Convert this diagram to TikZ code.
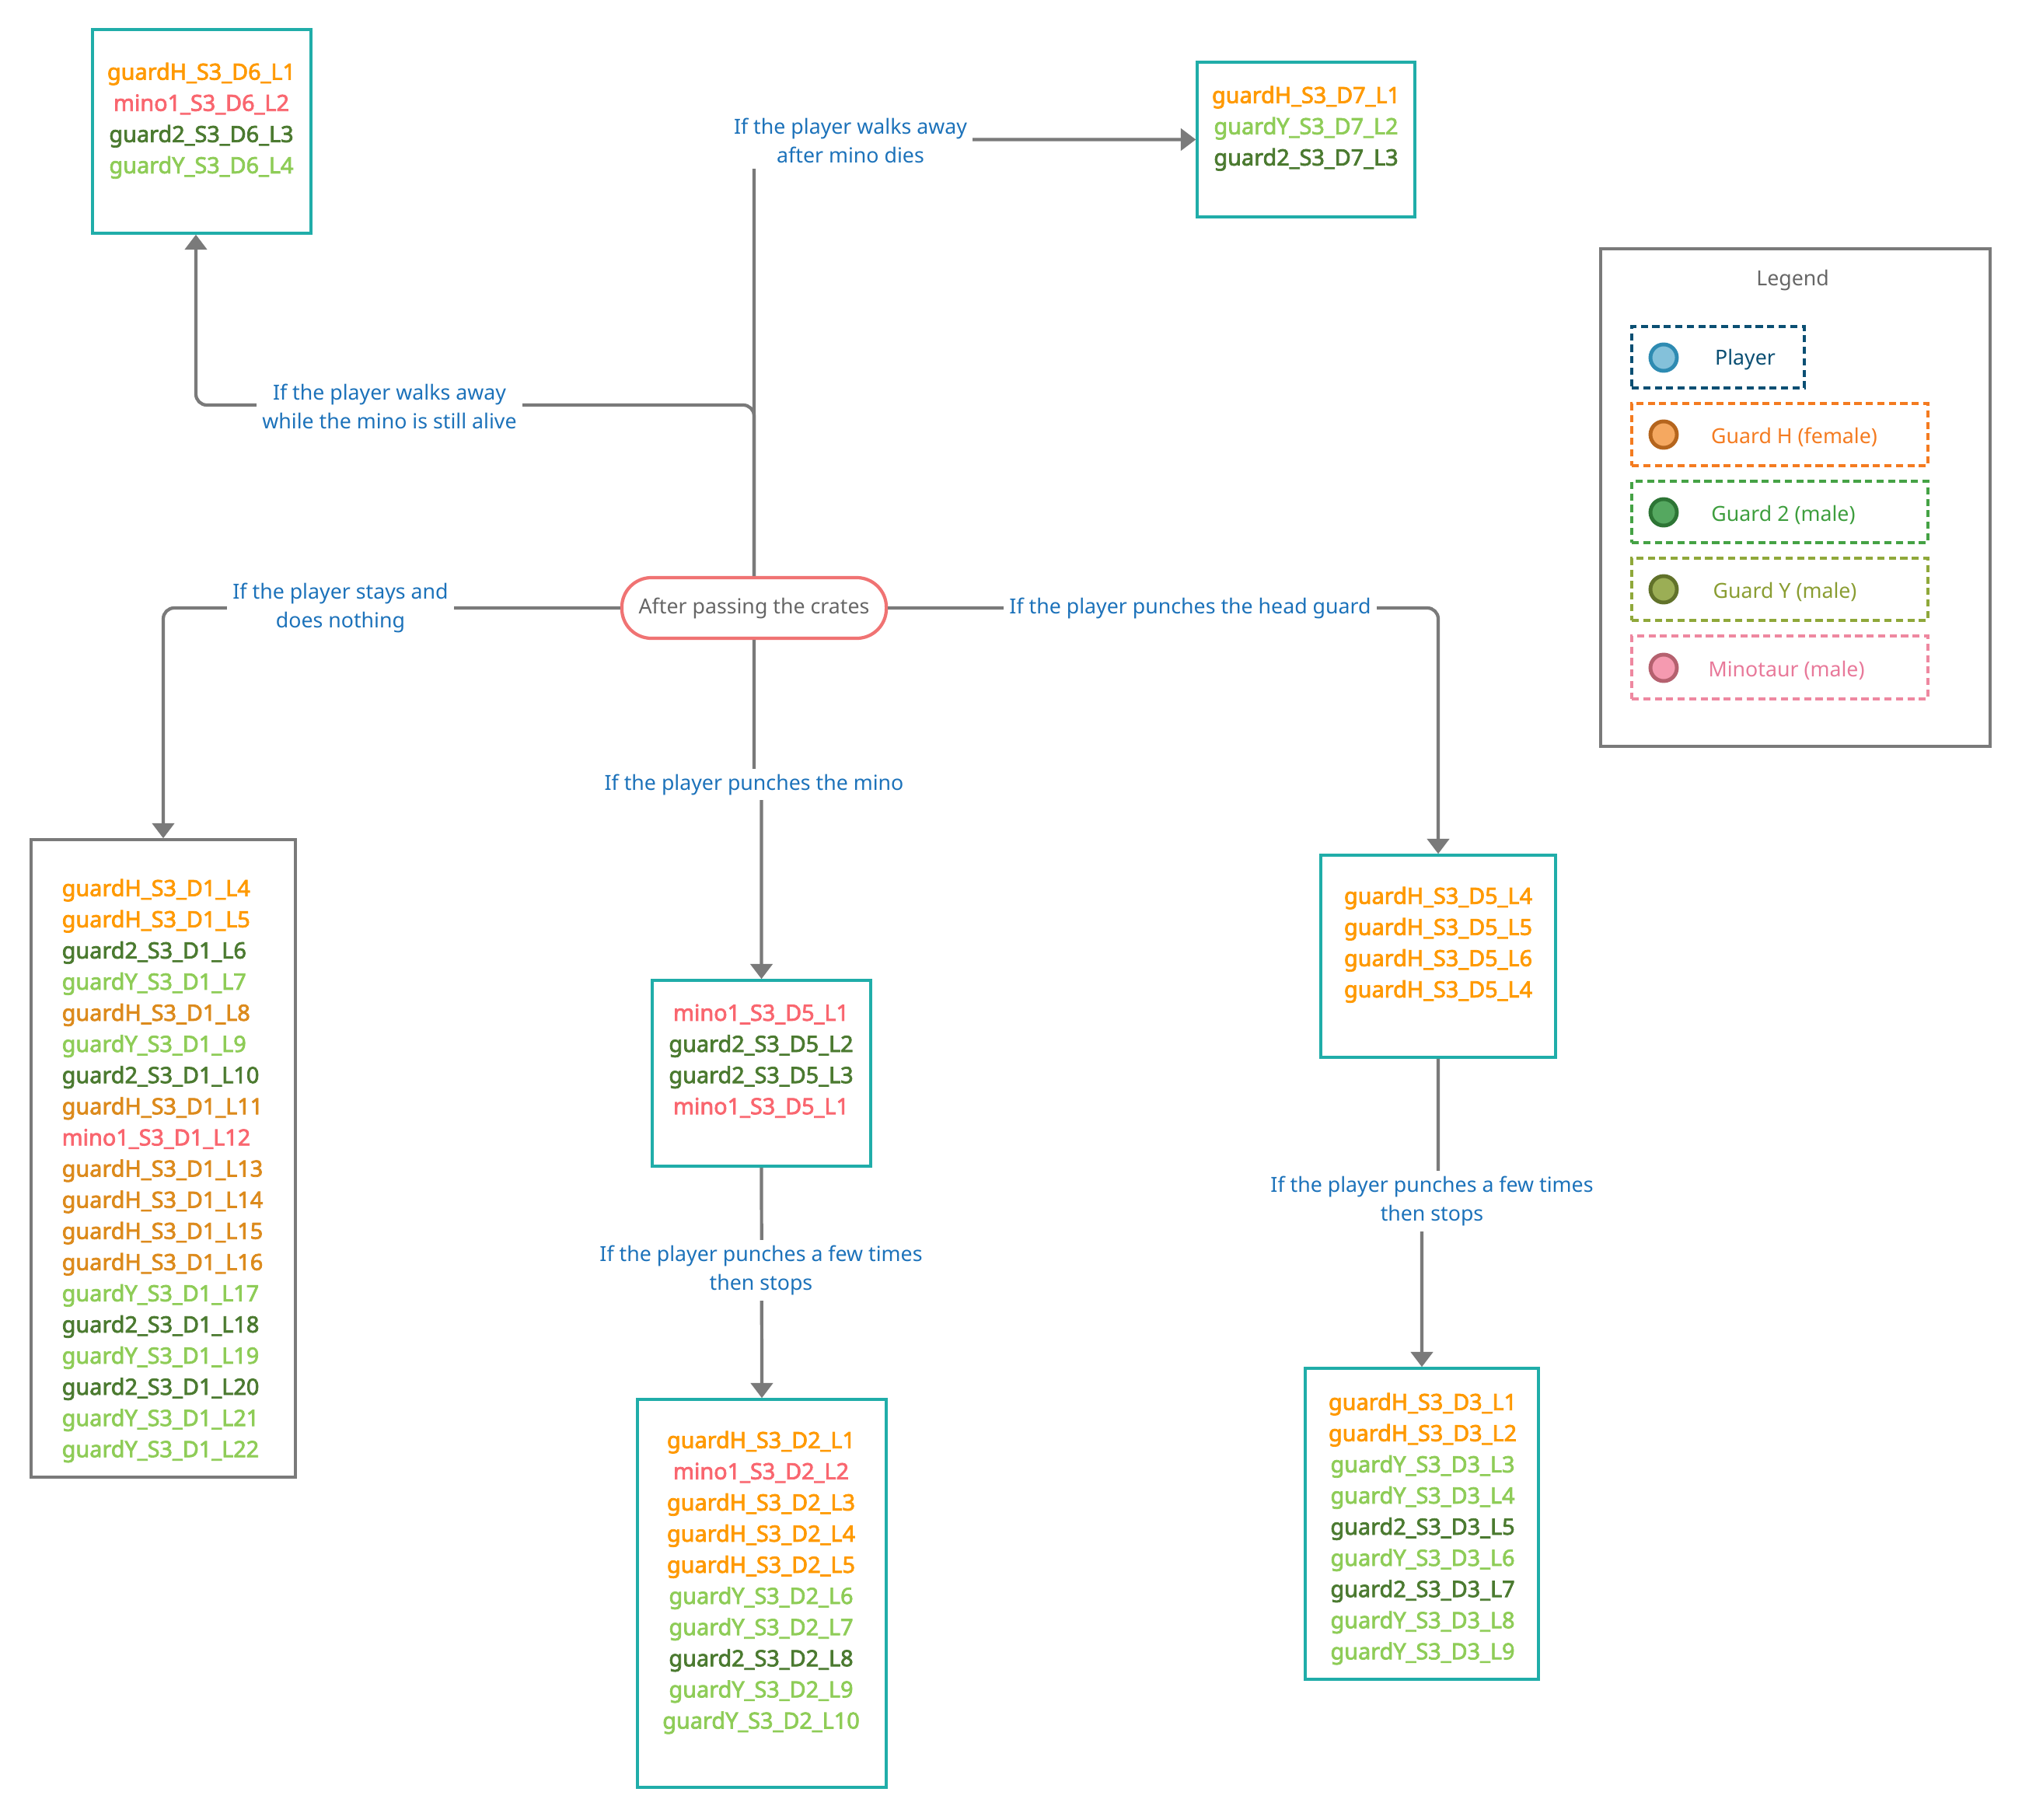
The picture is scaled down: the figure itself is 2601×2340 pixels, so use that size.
\documentclass[tikz,border=0pt]{standalone}
\usepackage{fontspec}
\setmainfont{Noto Sans}
\newfontfamily\listfont{Noto Sans}[FakeBold=2.6]
\usetikzlibrary{arrows.meta,fit}

\definecolor{guardHc}{HTML}{FF9900}
\definecolor{guardHd}{HTML}{DC8A1C}
\definecolor{minoc}{HTML}{F9666F}
\definecolor{guardTc}{HTML}{4B7A30}
\definecolor{guardYc}{HTML}{8ECC57}
\definecolor{tealc}{HTML}{20ADA9}
\definecolor{linec}{HTML}{7A7A7A}
\definecolor{labelc}{HTML}{1C72BA}
\definecolor{startc}{HTML}{F07373}
% legend colours
\definecolor{kPline}{HTML}{0B4F73}
\definecolor{kPring}{HTML}{2E8BB2}
\definecolor{kPfill}{HTML}{84C1DA}
\definecolor{kHline}{HTML}{F47B20}
\definecolor{kHring}{HTML}{B5651D}
\definecolor{kHfill}{HTML}{F5A860}
\definecolor{kTline}{HTML}{45A245}
\definecolor{kTtext}{HTML}{3E9E3E}
\definecolor{kTring}{HTML}{2D7535}
\definecolor{kTfill}{HTML}{55A860}
\definecolor{kYline}{HTML}{8FA83A}
\definecolor{kYtext}{HTML}{8A9D32}
\definecolor{kYring}{HTML}{61722A}
\definecolor{kYfill}{HTML}{9BAE55}
\definecolor{kMline}{HTML}{EE88A0}
\definecolor{kMtext}{HTML}{E8799A}
\definecolor{kMring}{HTML}{B5616F}
\definecolor{kMfill}{HTML}{F59AB0}

\newcommand{\lH}[1]{\textcolor{guardHc}{#1}}
\newcommand{\lHd}[1]{\textcolor{guardHd}{#1}}
\newcommand{\lM}[1]{\textcolor{minoc}{#1}}
\newcommand{\lT}[1]{\textcolor{guardTc}{#1}}
\newcommand{\lY}[1]{\textcolor{guardYc}{#1}}

\tikzset{
  tealbox/.style={draw=tealc, line width=1pt, inner sep=0pt},
  graybox/.style={draw=linec, line width=1pt, inner sep=0pt},
  lines/.style={font=\listfont\fontsize{8.2}{11.4}\selectfont, align=center, inner sep=0pt},
  link/.style={draw=linec, line width=1.2pt, rounded corners=0.14cm},
  arr/.style={-{Triangle[width=8pt,length=5.5pt]}},
  cond/.style={fill=white, text=labelc, font=\fontsize{7.6}{10.4}\selectfont, align=center, inner sep=2pt},
  legbox/.style={draw=#1, line width=0.9pt, dash pattern=on 2.6pt off 1.6pt, inner sep=0pt},
  dot/.style 2 args={circle, draw=#1, fill=#2, line width=1.4pt, minimum size=0.34cm, inner sep=0pt},
  legtext/.style={text=#1, font=\fontsize{7.6}{9}\selectfont, inner sep=0pt}
}

\begin{document}
\begin{tikzpicture}[x=0.01cm, y=-0.01cm]
\useasboundingbox (0,0) rectangle (2601,2340);

% start
\node (start) [draw=startc, line width=1.2pt, rounded corners=0.38cm, minimum width=3.4cm,
  minimum height=0.78cm, text=black!60, font=\fontsize{7.6}{9}\selectfont] at (970,782) {After passing the crates};

% boxes
\node (d6) [tealbox, fit={(119,38) (400,300)}] {};
\node (d7) [tealbox, fit={(1540,80) (1820,279)}] {};
\node (d1) [graybox, fit={(40,1080) (380,1900)}] {};
\node (d5) [tealbox, fit={(839,1261) (1120,1500)}] {};
\node (d2) [tealbox, fit={(820,1800) (1140,2299)}] {};
\node (d5r) [tealbox, fit={(1699,1100) (2001,1360)}] {};
\node (d3) [tealbox, fit={(1679,1760) (1979,2160)}] {};

\node (d6txt) [lines, anchor=north] at (259,80) {\lH{guardH\_S3\_D6\_L1}\\\lM{mino1\_S3\_D6\_L2}\\
  \lT{guard2\_S3\_D6\_L3}\\\lY{guardY\_S3\_D6\_L4}};
\node (d7txt) [lines, anchor=north] at (1680,110) {\lH{guardH\_S3\_D7\_L1}\\\lY{guardY\_S3\_D7\_L2}\\
  \lT{guard2\_S3\_D7\_L3}};
\node (d1txt) [lines, align=left, anchor=north west] at (79,1130) {\lH{guardH\_S3\_D1\_L4}\\
  \lH{guardH\_S3\_D1\_L5}\\\lT{guard2\_S3\_D1\_L6}\\\lY{guardY\_S3\_D1\_L7}\\\lHd{guardH\_S3\_D1\_L8}\\
  \lY{guardY\_S3\_D1\_L9}\\\lT{guard2\_S3\_D1\_L10}\\\lHd{guardH\_S3\_D1\_L11}\\\lM{mino1\_S3\_D1\_L12}\\
  \lHd{guardH\_S3\_D1\_L13}\\\lHd{guardH\_S3\_D1\_L14}\\\lHd{guardH\_S3\_D1\_L15}\\\lHd{guardH\_S3\_D1\_L16}\\
  \lY{guardY\_S3\_D1\_L17}\\\lT{guard2\_S3\_D1\_L18}\\\lY{guardY\_S3\_D1\_L19}\\\lT{guard2\_S3\_D1\_L20}\\
  \lY{guardY\_S3\_D1\_L21}\\\lY{guardY\_S3\_D1\_L22}};
\node (d5txt) [lines, anchor=north] at (979,1291) {\lM{mino1\_S3\_D5\_L1}\\\lT{guard2\_S3\_D5\_L2}\\
  \lT{guard2\_S3\_D5\_L3}\\\lM{mino1\_S3\_D5\_L1}};
\node (d2txt) [lines, anchor=north] at (979,1840) {\lH{guardH\_S3\_D2\_L1}\\\lM{mino1\_S3\_D2\_L2}\\
  \lH{guardH\_S3\_D2\_L3}\\\lH{guardH\_S3\_D2\_L4}\\\lH{guardH\_S3\_D2\_L5}\\\lY{guardY\_S3\_D2\_L6}\\
  \lY{guardY\_S3\_D2\_L7}\\\lT{guard2\_S3\_D2\_L8}\\\lY{guardY\_S3\_D2\_L9}\\\lY{guardY\_S3\_D2\_L10}};
\node (d5rtxt) [lines, anchor=north] at (1850,1140) {\lH{guardH\_S3\_D5\_L4}\\\lH{guardH\_S3\_D5\_L5}\\
  \lH{guardH\_S3\_D5\_L6}\\\lH{guardH\_S3\_D5\_L4}};
\node (d3txt) [lines, anchor=north] at (1830,1791) {\lH{guardH\_S3\_D3\_L1}\\\lH{guardH\_S3\_D3\_L2}\\
  \lY{guardY\_S3\_D3\_L3}\\\lY{guardY\_S3\_D3\_L4}\\\lT{guard2\_S3\_D3\_L5}\\\lY{guardY\_S3\_D3\_L6}\\
  \lT{guard2\_S3\_D3\_L7}\\\lY{guardY\_S3\_D3\_L8}\\\lY{guardY\_S3\_D3\_L9}};

% connectors
\coordinate (c6) at (252,521);
\coordinate (m5) at (970,1007);
\coordinate (m3) at (1850,1543);
\draw [link, arr] (start.north) |- (d7.west);
\draw [link, arr] (start.north) |- (c6) -- (c6 |- d6.south);
\draw [link, arr] (start.west) -| (d1.north);
\draw [link, arr] (start.south) -- (m5) -| (d5.north);
\draw [link, arr] (start.east) -| (d5r.north);
\draw [link, arr] (d5.south) -- (d2.north);
\draw [link, arr] (d5r.south) -- (m3) -| (d3.north);

% conditions
\node (q7) [cond] at (1094,181) {If the player walks away\\after mino dies};
\node (q6) [cond] at (501,523) {If the player walks away\\while the mino is still alive};
\node (q1) [cond] at (438,782) {If the player stays and\\does nothing};
\node (q5) [cond] at (970,1009) {If the player punches the mino};
\node (q5r) [cond] at (1531,782) {If the player punches the head guard};
\node (q2) [cond] at (979,1634) {If the player punches a few times\\then stops};
\node (q3) [cond] at (1842,1545) {If the player punches a few times\\then stops};

% legend
\node (legend) [graybox, line width=1.3pt, fit={(2059,320) (2560,960)}] {};
\node (legtitle) [legtext=black!60] at (2306,361) {Legend};
\node (kplayer) [legbox=kPline, fit={(2099,420) (2321,499)}] {};
\node (kguardH) [legbox=kHline, fit={(2099,519) (2480,599)}] {};
\node (kguard2) [legbox=kTline, fit={(2099,619) (2480,698)}] {};
\node (kguardY) [legbox=kYline, fit={(2099,718) (2480,798)}] {};
\node (kmino) [legbox=kMline, fit={(2099,818) (2480,899)}] {};
\node (oplayer) [dot={kPring}{kPfill}] at (2140,460) {};
\node (oguardH) [dot={kHring}{kHfill}] at (2140,559) {};
\node (oguard2) [dot={kTring}{kTfill}] at (2140,659) {};
\node (oguardY) [dot={kYring}{kYfill}] at (2140,758) {};
\node (omino) [dot={kMring}{kMfill}] at (2140,859) {};
\node (tplayer) [legtext=kPline] at (2245,463) {Player};
\node (tguardH) [legtext=kHline] at (2308,562) {Guard H (female)};
\node (tguard2) [legtext=kTtext] at (2294,662) {Guard 2 (male)};
\node (tguardY) [legtext=kYtext] at (2296,761) {Guard Y (male)};
\node (tmino) [legtext=kMtext] at (2298,862) {Minotaur (male)};
\end{tikzpicture}
\end{document}
